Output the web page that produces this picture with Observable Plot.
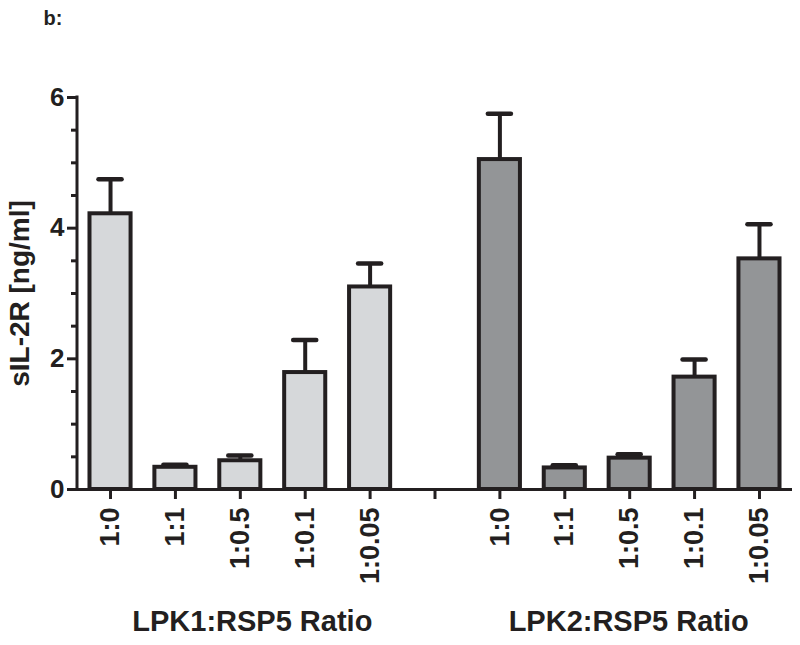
<!DOCTYPE html>
<html><head><meta charset="utf-8">
<script src="https://cdn.jsdelivr.net/npm/d3@7"></script>
<script src="https://cdn.jsdelivr.net/npm/@observablehq/plot@0.6"></script>
<style>
body{margin:0;background:#fff}
svg{font-family:"Liberation Sans",Arial,sans-serif}
</style>
</head><body><div id="chart"></div>
<script>
const panelLabel = "b:";
const yLabel = "sIL-2R [ng/ml]";
const groups = ["LPK1:RSP5 Ratio", "LPK2:RSP5 Ratio"];
const ratios = ["1:0", "1:1", "1:0.5", "1:0.1", "1:0.05"];
const lpk1Mean = [4.22, 0.34, 0.44, 1.79, 3.10];
const lpk1Err  = [0.53, 0.04, 0.08, 0.50, 0.36];
const lpk2Mean = [5.05, 0.33, 0.48, 1.72, 3.53];
const lpk2Err  = [0.70, 0.04, 0.06, 0.27, 0.53];
const yMajorTicks = [0, 2, 4, 6];
const yMinorTicks = [0.5, 1, 1.5, 2.5, 3, 3.5, 4.5, 5, 5.5];
const gapKey = "gap";

const means = [lpk1Mean, lpk2Mean];
const errs = [lpk1Err, lpk2Err];
const rows = [];
groups.forEach((g, gi) => ratios.forEach((r, i) => rows.push({
  group: g, ratio: r, key: g + "|" + r, mean: means[gi][i], top: means[gi][i] + errs[gi][i]
})));
const xDomain = [...rows.filter(d => d.group === groups[0]).map(d => d.key), gapKey,
                 ...rows.filter(d => d.group === groups[1]).map(d => d.key)];
const midKey = gi => groups[gi] + "|" + ratios[2];

const ink = "#231f20";
const font = "'Liberation Sans', Arial, sans-serif";

const yAxisLine = (index, scales, values, dims) => {
  const y = scales.y;
  const l = document.createElementNS("http://www.w3.org/2000/svg", "line");
  l.setAttribute("x1", dims.marginLeft);
  l.setAttribute("x2", dims.marginLeft);
  l.setAttribute("y1", y(0) + 1.5);
  l.setAttribute("y2", y(6) - 1.5);
  l.setAttribute("stroke", ink);
  l.setAttribute("stroke-width", 3);
  return l;
};

const plot = Plot.plot({
  width: 800, height: 645,
  marginLeft: 77, marginRight: 8, marginTop: 97, marginBottom: 156,
  style: {fontFamily: font, fontWeight: "bold", color: ink, background: "#fff", overflow: "visible"},
  x: {type: "band", domain: xDomain, paddingInner: 0.367, paddingOuter: 0.1925, align: 0.5, round: false, axis: null},
  y: {domain: [0, 6], axis: null},
  color: {domain: groups, range: ["#d6d8da", "#939597"]},
  marks: [
    Plot.ruleX(rows, {x: "key", y1: "mean", y2: "top", stroke: ink, strokeWidth: 4}),
    Plot.tickY(rows, {x: "key", y: "top", stroke: ink, strokeWidth: 4.5, strokeLinecap: "round", inset: 9}),
    Plot.barY(rows, {x: "key", y: "mean", fill: "group", stroke: ink, strokeWidth: 4}),
    Plot.ruleY([0], {stroke: ink, strokeWidth: 3}),
    yAxisLine,
    Plot.axisX({tickRotate: -90, tickSize: 10, tickPadding: 8, fontSize: 27, fontWeight: "bold",
      stroke: ink, strokeWidth: 3, label: null,
      tickFormat: d => d === gapKey ? "" : d.split("|")[1]}),
    Plot.axisY({ticks: yMajorTicks, tickSize: 10, tickPadding: 3, fontSize: 26, fontWeight: "bold",
      stroke: ink, strokeWidth: 3, label: null, tickFormat: d => String(d)}),
    Plot.axisY({ticks: yMinorTicks, tickSize: 6, stroke: ink, strokeWidth: 3, label: null, tickFormat: () => ""}),
    Plot.text([yLabel], {frameAnchor: "left", textAnchor: "middle", rotate: -90, dx: -57, fontSize: 28, fontWeight: "bold", fill: ink}),
    Plot.text([groups[0]], {x: () => midKey(0), frameAnchor: "bottom", dy: 141, dx: 12, fontSize: 29, fontWeight: "bold", fill: ink}),
    Plot.text([groups[1]], {x: () => midKey(1), frameAnchor: "bottom", dy: 141, dx: -1, fontSize: 29, fontWeight: "bold", fill: ink}),
    Plot.text([panelLabel], {frameAnchor: "top-left", textAnchor: "start", dx: -34, dy: -87, fontSize: 20, fontWeight: "bold", fill: ink})
  ]
});
document.getElementById("chart").appendChild(plot);
</script>
</body></html>
